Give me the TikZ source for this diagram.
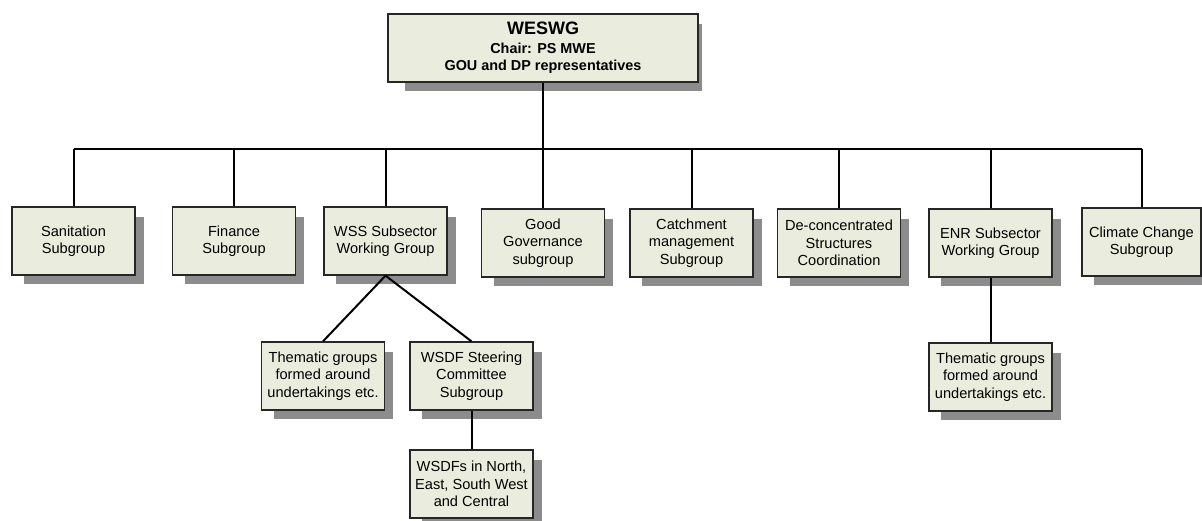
\documentclass[tikz,border=0pt]{standalone}
\usepackage{fontspec}
\setmainfont{Liberation Sans}
\usetikzlibrary{calc,backgrounds}
\definecolor{boxfill}{HTML}{EAEDDD}
\definecolor{shadowgray}{HTML}{8C8C8C}
\tikzset{
  orgbox/.style={draw=black!85, line width=1.3pt, fill=boxfill, align=center,
    font=\fontsize{14.6}{17.3}\selectfont, minimum width=123pt, minimum height=68pt,
    inner sep=0pt},
  conn/.style={draw=black, line width=2pt}
}
\newcommand{\boxshadow}[1]{\fill[shadowgray] ($(#1.south west)+(13,8)$) rectangle ($(#1.north east)+(8,11)$);}
\begin{document}
\begin{tikzpicture}[x=1pt,y=-1pt]
\useasboundingbox (0,0) rectangle (1202,520);
% top
\node[orgbox, minimum width=310pt, font=\bfseries\fontsize{14.4}{17.5}\selectfont] (top) at (543,48)
  {{\fontsize{18}{19}\selectfont WESWG}\\[1pt]Chair: PS MWE\\GOU and DP representatives};
% row 1
\node[orgbox] (san) at (73.5,241) {Sanitation\\Subgroup};
\node[orgbox] (fin) at (234,241) {Finance\\Subgroup};
\node[orgbox] (wss) at (385.5,241) {WSS Subsector\\Working Group};
\node[orgbox] (gg) at (543,243) {Good\\Governance\\subgroup};
\node[orgbox] (cat) at (691.5,243) {Catchment\\management\\Subgroup};
\node[orgbox] (dec) at (839,243) {De-concentrated\\Structures\\Coordination};
\node[orgbox] (enr) at (990.5,243) {ENR Subsector\\Working Group};
\node[orgbox, minimum width=119pt] (cli) at (1141.5,242) {Climate Change\\Subgroup};
% row 2
\node[orgbox] (th1) at (323,376) {Thematic groups\\formed around\\undertakings etc.};
\node[orgbox] (sc) at (471.5,376) {WSDF Steering\\Committee\\Subgroup};
\node[orgbox] (wsdfs) at (471.5,484) {WSDFs in North,\\East, South West\\and Central};
\node[orgbox] (th2) at (990.5,377) {Thematic groups\\formed around\\undertakings etc.};
% shadows
\begin{scope}[on background layer]
\fill[shadowgray] ($(top.south west)+(18,8)$) rectangle ($(top.north east)+(3,11)$);
\boxshadow{san}\boxshadow{fin}\boxshadow{wss}\boxshadow{gg}\boxshadow{cat}
\boxshadow{dec}\boxshadow{enr}\boxshadow{cli}\boxshadow{th1}\boxshadow{sc}
\boxshadow{wsdfs}\boxshadow{th2}
\end{scope}
% connectors
\coordinate (busL) at (73.5,149);
\coordinate (busR) at (1141.5,149);
\draw[conn] (top.south) -- (top.south |- busL);
\draw[conn] (busL) -- (busR);
\foreach \n in {san,fin,wss,gg,cat,dec,enr,cli}
  \draw[conn] (\n.north) -- (\n.north |- busL);
\draw[conn] (wss.south) -- (th1.north);
\draw[conn] (wss.south) -- (sc.north);
\draw[conn] (sc.south) -- (wsdfs.north);
\draw[conn] (enr.south) -- (th2.north);
\end{tikzpicture}
\end{document}
